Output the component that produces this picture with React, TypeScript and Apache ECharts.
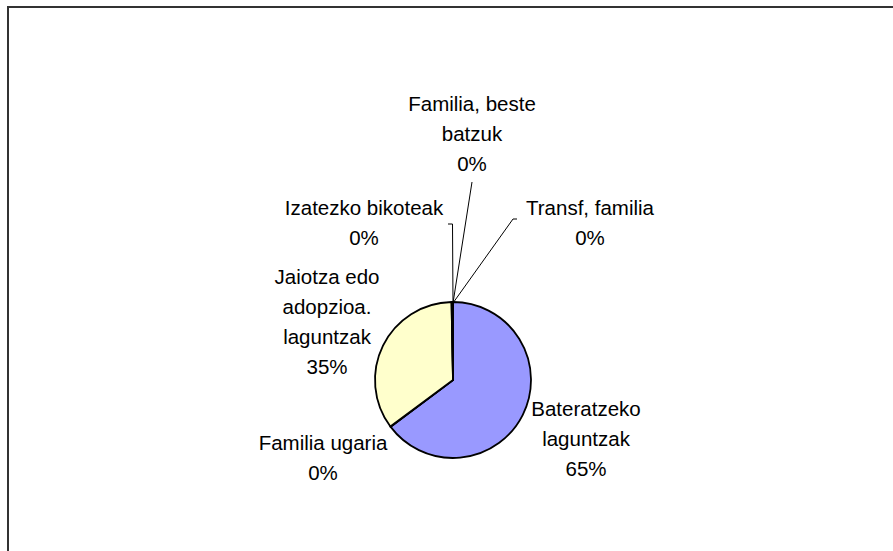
import React, { useEffect, useRef } from 'react';
import * as echarts from 'echarts';

const categories = [
  'Bateratzeko laguntzak',
  'Familia ugaria',
  'Jaiotza edo adopzioa. laguntzak',
  'Izatezko bikoteak',
  'Familia, beste batzuk',
  'Transf, familia',
];
const labelTexts = [
  'Bateratzeko\nlaguntzak',
  'Familia ugaria',
  'Jaiotza edo\nadopzioa.\nlaguntzak',
  'Izatezko bikoteak',
  'Familia, beste\nbatzuk',
  'Transf, familia',
];
const values = [650, 1, 350, 1, 1, 1];
const colors = ['#9999FF', '#993366', '#FFFFCC', '#CCFFFF', '#660066', '#FF8080'];

// label layout (positions only)
const labelLayouts: { x: number; y: number; line: number[][] | null }[] = [
  { x: 586, y: 438, line: null },
  { x: 323, y: 457, line: null },
  { x: 327, y: 321, line: null },
  { x: 364, y: 222, line: [[453, 303], [452.5, 224], [448, 224]] },
  { x: 472, y: 133, line: [[453, 303], [472, 182], [472, 182]] },
  { x: 590, y: 222, line: [[453, 303], [513, 219], [517, 219]] },
];

export default function App() {
  const ref = useRef<HTMLDivElement>(null);
  useEffect(() => {
    if (!ref.current) return;
    const chart = echarts.init(ref.current, null, { renderer: 'svg' });
    chart.setOption({
      animation: false,
      backgroundColor: '#ffffff',
      graphic: [
        {
          type: 'rect',
          shape: { x: 8, y: 7, width: 1000, height: 1000 },
          style: { fill: 'none', stroke: '#333333', lineWidth: 2 },
          silent: true,
        },
      ],
      series: [
        {
          type: 'pie',
          center: [453, 380],
          radius: 78,
          startAngle: 90,
          clockwise: true,
          avoidLabelOverlap: false,
          emphasis: { disabled: true },
          itemStyle: { borderColor: '#000000', borderWidth: 1.8 },
          label: {
            show: true,
            position: 'outside',
            fontFamily: '"Liberation Sans", Arial, sans-serif',
            fontSize: 20.5,
            lineHeight: 30,
            color: '#000000',
            align: 'center',
            formatter: (p: any) => `${labelTexts[p.dataIndex]}\n${p.percent}%`,
          },
          percentPrecision: 0,
          labelLine: { show: true, lineStyle: { color: '#000000', width: 1 } },
          labelLayout: (params: any) => {
            const l = labelLayouts[params.dataIndex];
            const out: any = { x: l.x, y: l.y, align: 'center', verticalAlign: 'middle' };
            if (l.line) out.labelLinePoints = l.line;
            return out;
          },
          data: categories.map((name, i) => ({
            name,
            value: values[i],
            itemStyle: { color: colors[i] },
            labelLine: { show: labelLayouts[i].line !== null },
          })),
        },
      ],
    });
    return () => chart.dispose();
  }, []);
  return (
    <div
      ref={ref}
      style={{ position: 'fixed', left: 0, top: 0, width: 893, height: 551 }}
    />
  );
}
